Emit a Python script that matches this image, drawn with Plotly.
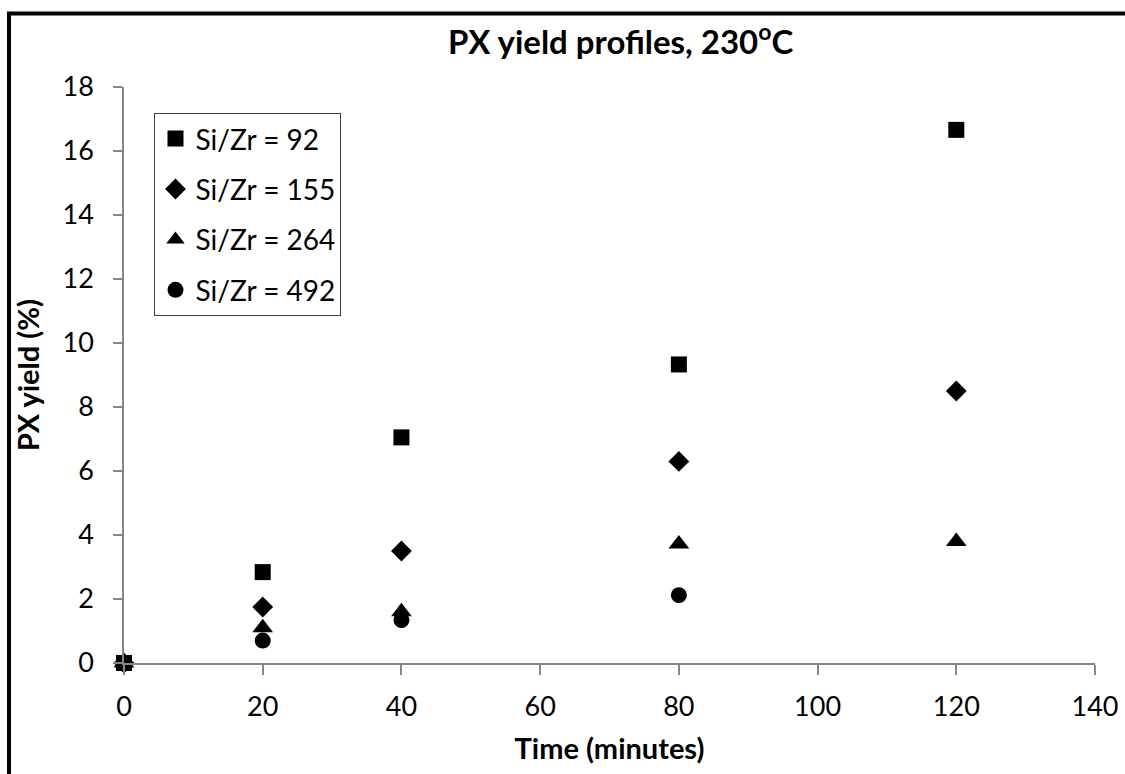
import plotly.graph_objects as go

# Reaction time (minutes) and PX yield (%) for each Si/Zr ratio
time_92 = [0, 20, 40, 80, 120]
yield_92 = [0, 2.84, 7.05, 9.33, 16.66]

time_155 = [0, 20, 40, 80, 120]
yield_155 = [0, 1.75, 3.5, 6.3, 8.5]

time_264 = [0, 20, 40, 80, 120]
yield_264 = [0, 1.1, 1.6, 3.72, 3.8]

time_492 = [0, 20, 40, 80]
yield_492 = [0, 0.7, 1.34, 2.12]

series_names = ["Si/Zr = 92", "Si/Zr = 155", "Si/Zr = 264", "Si/Zr = 492"]
x_ticks = [0, 20, 40, 60, 80, 100, 120, 140]
y_ticks = [0, 2, 4, 6, 8, 10, 12, 14, 16, 18]

FONT = "Lato, 'Open Sans', sans-serif"

series = [
    (time_92, yield_92, "square", 16),
    (time_155, yield_155, "diamond", 16),
    (time_264, yield_264, "triangle-up", 18),
    (time_492, yield_492, "circle", 16),
]

fig = go.Figure()
for i, ((xs, ys, sym, size), name) in enumerate(zip(series, series_names)):
    fig.add_trace(go.Scatter(
        x=xs, y=ys, mode="markers", name=name,
        legendgroup=f"g{i}",
        marker=dict(symbol=sym, size=size, color="black", line=dict(width=0)),
        cliponaxis=False,
    ))

axis_grey = "#868686"

fig.update_layout(
    width=1125, height=774,
    margin=dict(l=124, r=30, t=87, b=111, pad=0, autoexpand=False),
    paper_bgcolor="white", plot_bgcolor="white",
    font=dict(family=FONT, color="black", size=27),
    title=dict(
        text="<b>PX yield profiles, 230<sup>o</sup>C</b>",
        x=0.5116, xref="paper", xanchor="center",
        y=1 - 42 / 774, yref="container", yanchor="middle",
        font=dict(family=FONT, size=33, color="black"),
    ),
    showlegend=True,
    legend=dict(
        x=0.0314, y=0.955, xanchor="left", yanchor="top",
        bgcolor="white", bordercolor="#404040", borderwidth=1,
        font=dict(family=FONT, size=28, color="black"),
        tracegroupgap=11,
    ),
    xaxis=dict(
        range=[0, 140], tickvals=x_ticks, ticktext=[str(v) for v in x_ticks],
        automargin=False, ticklabeloverflow="allow",
        showgrid=False, zeroline=False,
        showline=True, linecolor=axis_grey, linewidth=1.5,
        ticks="outside", ticklen=10, tickcolor=axis_grey, tickwidth=1.5,
        ticklabelstandoff=9,
        tickfont=dict(family=FONT, size=27, color="black"),
        title=dict(text="<b>Time (minutes)</b>", standoff=18,
                   font=dict(family=FONT, size=29, color="black")),
    ),
    yaxis=dict(
        range=[0, 18], tickvals=y_ticks, ticktext=[str(v) for v in y_ticks],
        automargin=False, ticklabeloverflow="allow",
        showgrid=False, zeroline=False,
        showline=True, linecolor=axis_grey, linewidth=1.5,
        ticks="outside", ticklen=9, tickcolor=axis_grey, tickwidth=1.5,
        ticklabelstandoff=14,
        tickfont=dict(family=FONT, size=27, color="black"),
        title=dict(text="<b>PX yield (%)</b>", standoff=14,
                   font=dict(family=FONT, size=29, color="black")),
    ),
    shapes=[dict(
        type="rect", xref="paper", yref="paper",
        x0=(9 - 124) / 971, x1=1.2,
        y0=-0.5, y1=(663 - 13.5) / 576,
        line=dict(color="black", width=4), fillcolor="rgba(0,0,0,0)",
        layer="above",
    )],
)

fig.write_html("out.html")
